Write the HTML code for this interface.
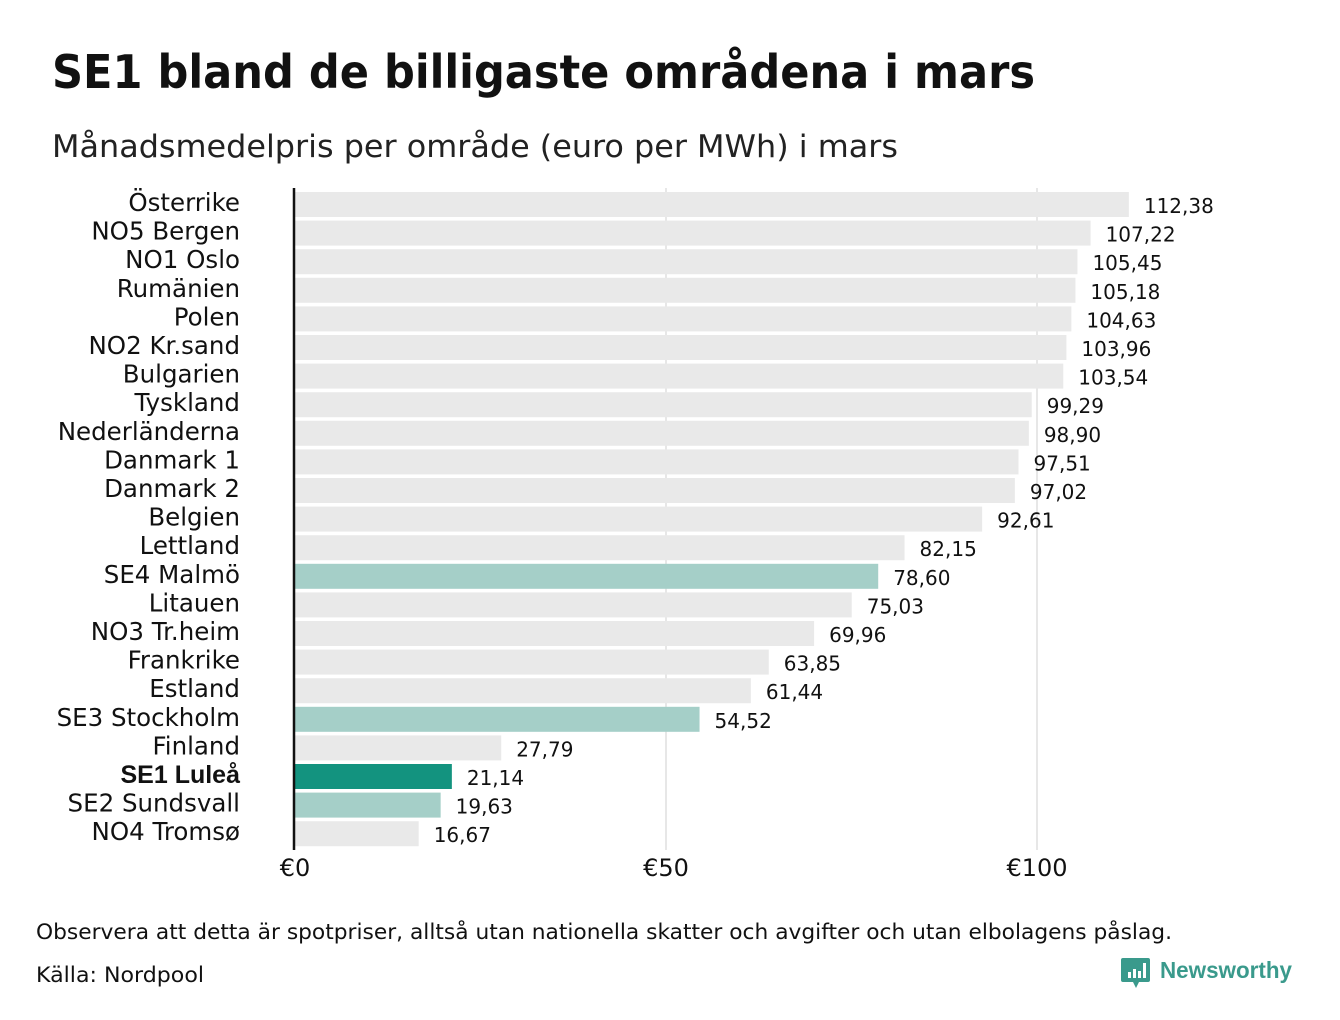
<!DOCTYPE html>
<html><head><meta charset="utf-8"><style>
body{margin:0;background:#fff;}
svg{display:block;font-family:"DejaVu Sans","Liberation Sans",sans-serif;}
</style></head><body>
<svg id="chart" width="1340" height="1020" viewBox="0 0 1340 1020">
<text x="52" y="88" font-size="46" font-weight="bold" fill="#111" textLength="983" lengthAdjust="spacingAndGlyphs">SE1 bland de billigaste områdena i mars</text>
<text x="52" y="157" font-size="31" fill="#222" textLength="846" lengthAdjust="spacingAndGlyphs">Månadsmedelpris per område (euro per MWh) i mars</text>
<g id="grid"></g>
<g id="bars"></g>
<g id="labels"></g>
<line x1="294" y1="188" x2="294" y2="850" stroke="#111" stroke-width="2.5"/>
<text x="36" y="939" font-size="21" fill="#111" textLength="1136" lengthAdjust="spacingAndGlyphs">Observera att detta är spotpriser, alltså utan nationella skatter och avgifter och utan elbolagens påslag.</text>
<text x="36" y="982" font-size="21" fill="#111" textLength="168" lengthAdjust="spacingAndGlyphs">Källa: Nordpool</text>
<g>
<path d="M1123 958 h25 a2 2 0 0 1 2 2 v20 a2 2 0 0 1 -2 2 h-9 l-3 6 l-3 -6 h-10 a2 2 0 0 1 -2 -2 v-20 a2 2 0 0 1 2 -2z" fill="#3a9a8c"/>
<rect x="1128" y="972" width="3" height="6" fill="#fff"/><rect x="1133" y="969" width="3" height="9" fill="#fff"/><rect x="1138" y="971" width="3" height="7" fill="#fff"/><rect x="1143" y="963" width="3" height="15" fill="#fff"/>
<text x="1160" y="978" font-size="23" font-weight="bold" fill="#3a9a8c" font-family="Liberation Sans, sans-serif" textLength="132" lengthAdjust="spacingAndGlyphs">Newsworthy</text>
</g>
</svg>
<script>
const categories=["Österrike","NO5 Bergen","NO1 Oslo","Rumänien","Polen","NO2 Kr.sand","Bulgarien","Tyskland","Nederländerna","Danmark  1","Danmark  2","Belgien","Lettland","SE4  Malmö","Litauen","NO3 Tr.heim","Frankrike","Estland","SE3  Stockholm","Finland","SE1 Luleå","SE2  Sundsvall","NO4 Tromsø"];
const values=[112.38,107.22,105.45,105.18,104.63,103.96,103.54,99.29,98.90,97.51,97.02,92.61,82.15,78.60,75.03,69.96,63.85,61.44,54.52,27.79,21.14,19.63,16.67];
const highlight=["none","none","none","none","none","none","none","none","none","none","none","none","none","light","none","none","none","none","light","none","main","light","none"];
const ticks=[0,50,100];
const tickLabels=["€0","€50","€100"];
const NS="http://www.w3.org/2000/svg";
const x=v=>295+v*7.42;
const y=i=>192+i*28.6;
function mk(t,a,p){const e=document.createElementNS(NS,t);for(const k in a)e.setAttribute(k,a[k]);p.appendChild(e);return e;}
const grid=document.getElementById('grid'),bars=document.getElementById('bars'),labels=document.getElementById('labels');
ticks.forEach((t,i)=>{
 if(t>0){const l=mk('line',{x1:x(t),x2:x(t),y1:188,y2:850,stroke:'#cfcfcf','stroke-width':1},grid);
 
 }
 const tx=mk('text',{x:x(t),y:876,'font-size':24,'text-anchor':'middle',fill:'#111'},grid);
 tx.textContent=tickLabels[i];
 
 
});
categories.forEach((c,i)=>{
 const col=highlight[i]==='main'?'#13937f':highlight[i]==='light'?'#a5cfc8':'#e9e9e9';
 const r=mk('rect',{x:295,y:y(i),width:x(values[i])-295,height:25,fill:col},bars);
 
 
 const l=mk('text',{x:240,y:y(i)+19,'font-size':24.5,'text-anchor':'end',fill:'#111','xml:space':'preserve'},labels);
 if(highlight[i]==='main'){l.setAttribute('font-weight','bold');l.setAttribute('font-size','25');l.setAttribute('font-family','Liberation Sans, sans-serif');}
 l.textContent=c;
 
 
 const v=mk('text',{x:x(values[i])+15,y:y(i)+21,'font-size':20,fill:'#111'},labels);
 v.textContent=values[i].toFixed(2).replace('.',',');
 
 
});
</script>
</body></html>
